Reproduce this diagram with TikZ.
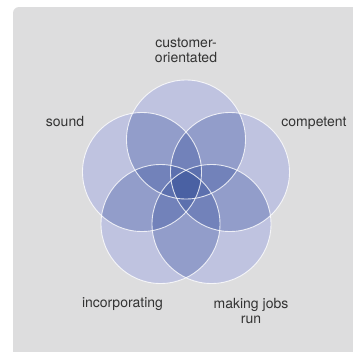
\documentclass[tikz,border=0pt]{standalone}
\usepackage{fontspec}
\setmainfont{TeX Gyre Heros}
\definecolor{panel}{HTML}{DDDDDE}
\definecolor{lvA}{HTML}{BFC3E0}
\definecolor{lvB}{HTML}{929DCA}
\definecolor{lvC}{HTML}{7282BA}
\definecolor{lvD}{HTML}{5C70AE}
\definecolor{lvE}{HTML}{4A61A3}
\definecolor{txt}{HTML}{333333}
\begin{document}
\begin{tikzpicture}[x=1pt,y=-1pt,
  lbl/.style={text=txt, font=\fontsize{14}{15}\selectfont, align=center, inner sep=0pt},
  ring/.style={draw=white, draw opacity=0.8, line width=0.9pt}]
\useasboundingbox (0,0) rectangle (353,351);
\fill[white] (0,0) rectangle (353,351);
\fill[panel, rounded corners=6pt] (13,7) rectangle (366,364);
\coordinate (c1) at (186,139.5);
\coordinate (c2) at (230,172);
\coordinate (c3) at (211.5,224);
\coordinate (c4) at (160.5,224);
\coordinate (c5) at (142,172);
\def\rr{59.5pt}
% level 1
\foreach \i in {1,...,5}{\fill[lvA] (c\i) circle[radius=\rr];}
% level 2
\foreach \i/\j in {1/2,1/3,1/4,1/5,2/3,2/4,2/5,3/4,3/5,4/5}{
  \begin{scope}\clip (c\i) circle[radius=\rr]; \fill[lvB] (c\j) circle[radius=\rr];\end{scope}}
% level 3
\foreach \i/\j/\k in {1/2/3,1/2/4,1/2/5,1/3/4,1/3/5,1/4/5,2/3/4,2/3/5,2/4/5,3/4/5}{
  \begin{scope}\clip (c\i) circle[radius=\rr]; \clip (c\j) circle[radius=\rr]; \fill[lvC] (c\k) circle[radius=\rr];\end{scope}}
% level 4
\foreach \i/\j/\k/\l in {1/2/3/4,1/2/3/5,1/2/4/5,1/3/4/5,2/3/4/5}{
  \begin{scope}\clip (c\i) circle[radius=\rr]; \clip (c\j) circle[radius=\rr]; \clip (c\k) circle[radius=\rr]; \fill[lvD] (c\l) circle[radius=\rr];\end{scope}}
% level 5
\begin{scope}\clip (c1) circle[radius=\rr]; \clip (c2) circle[radius=\rr]; \clip (c3) circle[radius=\rr]; \clip (c4) circle[radius=\rr]; \fill[lvE] (c5) circle[radius=\rr];\end{scope}
% outlines
\foreach \i in {1,...,5}{\path[ring] (c\i) circle[radius=\rr];}
% labels
\node[lbl] (t1) at (186,50) {customer-\\orientated};
\node[lbl, anchor=base] (t2) at (314,126.5) {competent};
\node[lbl] (t3) at (251,311) {making jobs\\run};
\node[lbl, anchor=base] (t4) at (122.5,307.3) {incorporating};
\node[lbl, anchor=base] (t5) at (65,126.5) {sound};
\end{tikzpicture}
\end{document}
